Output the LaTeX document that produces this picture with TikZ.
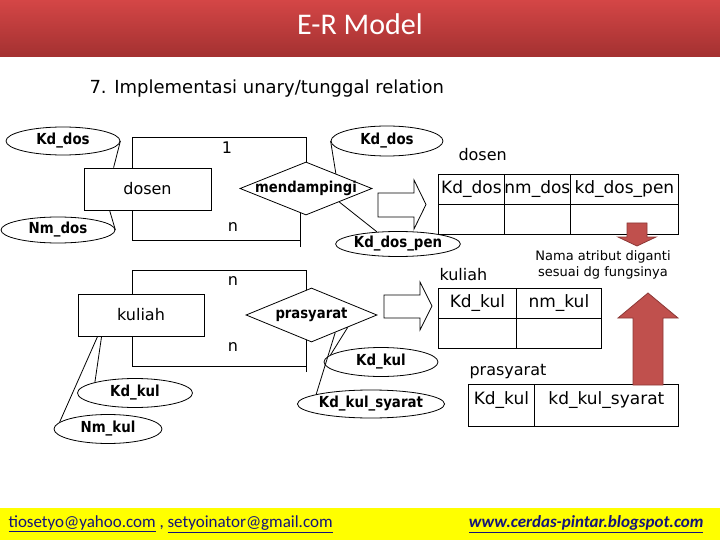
\documentclass[tikz,border=0pt]{standalone}
\usepackage{fontspec}
\setmainfont{DejaVu Sans}
\newfontfamily\calfont{Carlito}
\newfontfamily\attrfont[FakeStretch=0.88]{DejaVu Sans Bold}
\usetikzlibrary{shapes.geometric,calc}
\definecolor{hdrtop}{HTML}{D44646}
\definecolor{hdrbot}{HTML}{A33131}
\definecolor{arrred}{HTML}{C0504D}
\definecolor{arrdark}{HTML}{8C3836}
\definecolor{linkblue}{HTML}{14147A}
\definecolor{footyellow}{HTML}{FFFF00}
\tikzset{
  ln/.style={line width=0.8pt},
  attr/.style={ellipse, draw, ln, inner sep=0pt, font=\attrfont\fontsize{15.2}{17}\selectfont},
  ent/.style={rectangle, draw, ln, inner sep=0pt, font=\fontsize{16}{18}\selectfont},
  rel/.style={diamond, draw, ln, inner sep=0pt},
  rellab/.style={font=\attrfont\fontsize{15}{17}\selectfont},
  card/.style={font=\fontsize{16}{18}\selectfont},
  cell/.style={rectangle, draw, ln, inner sep=0pt, anchor=north west, font=\fontsize{17}{19}\selectfont},
  tlab/.style={font=\fontsize{16}{18}\selectfont, anchor=west},
  blockarr/.style={draw, ln, fill=white},
  redarr/.style={draw=arrdark, line width=0.8pt, fill=arrred},
  foot/.style={font=\calfont\fontsize{17}{19}\selectfont, text=linkblue}
}
\begin{document}
\begin{tikzpicture}[x=1pt,y=-1pt]
\useasboundingbox (0,0) rectangle (720,540);
% header
\shade[top color=hdrtop, bottom color=hdrbot] (0,0) rectangle (720,57);
\node[font=\calfont\fontsize{30}{36}\selectfont, text=white] (title) at (360,24) {E-R Model};
\node[font=\fontsize{18}{21}\selectfont, anchor=west] (sub) at (86,89) {7. Implementasi unary/tunggal relation};
% footer
\fill[footyellow] (0,508) rectangle (720,540);
\node[foot, anchor=west] (mail) at (5,524) {\underline{tiosetyo@yahoo.com} , \underline{setyoinator@gmail.com}};
\node[foot, anchor=east, font=\calfont\bfseries\itshape\fontsize{17}{19}\selectfont] (web) at (707,524) {\underline{www.cerdas-pintar.blogspot.com}};

% ---- upper ER: dosen / mendampingi
\node[attr, minimum width=114pt, minimum height=28pt] (kd1) at (63,141) {Kd\_dos};
\node[ent, minimum width=127pt, minimum height=42pt] (dos) at (147.5,189) {dosen};
\node[attr, minimum width=114pt, minimum height=26pt] (nm1) at (58,230) {Nm\_dos};
\node[rel, minimum width=132pt, minimum height=53pt] (m) at (306,188.5) {};
\node[rellab] (mlab) at (m) {mendampingi};
\node[attr, minimum width=112pt, minimum height=30pt] (kd2) at (387,141) {Kd\_dos};
\node[attr, minimum width=110pt, minimum height=25pt] (kdp) at (398,244) {Kd\_dos\_pen};

\draw[ln] (kd1.east) -- ([xshift=30pt]dos.north west);
\draw[ln] ([xshift=26pt]dos.south west) -- (nm1.east);
\draw[ln] ([xshift=49pt]dos.north west) |- ([yshift=24pt]m.north) -- (m.north);
\coordinate (mb) at ($(m.south)!0.08!(m.west)$);
\draw[ln] ([xshift=49pt]dos.south west) |- ([yshift=-27pt]mb);
\draw[ln] ([yshift=-34pt]mb) -- (mb);
\node[card] (c1) at (227,148) {1};
\node[card] (c2) at (233,227) {n};
\draw[ln] (kd2.west) -- ($(m.north)!0.45!(m.east)$);
\draw[ln] ($(m.east)!0.5!(m.south)$) -- (kdp.150);

% ---- lower ER: kuliah / prasyarat
\node[ent, minimum width=126pt, minimum height=42pt] (kul) at (141,315) {kuliah};
\node[rel, minimum width=131pt, minimum height=54pt] (p) at (311.5,315) {};
\node[rellab] (plab) at (p) {prasyarat};
\node[attr, minimum width=114pt, minimum height=29pt] (kk2) at (381,362) {Kd\_kul};
\node[attr, minimum width=143pt, minimum height=28pt] (kks) at (371,404) {Kd\_kul\_syarat};
\node[attr, minimum width=115pt, minimum height=29pt] (kk1) at (135,393) {Kd\_kul};
\node[attr, minimum width=108pt, minimum height=29pt] (nk) at (108,429) {Nm\_kul};

\coordinate (pt) at ($(p.north)!0.08!(p.west)$);
\coordinate (pb) at ($(p.south)!0.08!(p.west)$);
\draw[ln] ([xshift=55pt]kul.north west) |- ([yshift=19pt]pt) -- (pt);
\draw[ln] ([xshift=55pt]kul.south west) |- ([yshift=-26pt]pb);
\draw[ln] ([yshift=-32pt]pb) -- (pb);
\node[card] (c3) at (233,281) {n};
\node[card] (c4) at (233,347) {n};
\draw[ln] ($(p.east)!0.45!(p.south)$) -- (kk2.172);
\draw[ln] ($(p.east)!0.64!(p.south)$) -- (kks.170);
\draw[ln] ([xshift=24pt]kul.south west) -- (kk1.165);
\draw[ln] ([xshift=20pt]kul.south west) -- (nk.172);

% ---- block arrows
\draw[blockarr] (378,193) -- (414,193) -- (414,180) -- (426,204.5) -- (414,229) -- (414,217) -- (378,217) -- cycle;
\draw[blockarr] (384,295) -- (420,295) -- (420,282) -- (432,306) -- (420,330) -- (420,318) -- (384,318) -- cycle;

% ---- tables
\node[tlab] (tdos) at (455,155) {dosen};
\node[cell, minimum width=66pt, minimum height=30pt] (d11) at (438,174) {Kd\_dos};
\node[cell, minimum width=66pt, minimum height=30pt] (d12) at (504,174) {nm\_dos};
\node[cell, minimum width=108pt, minimum height=30pt] (d13) at (570,174) {kd\_dos\_pen};
\node[cell, minimum width=66pt, minimum height=30pt] (d21) at (438,204) {};
\node[cell, minimum width=66pt, minimum height=30pt] (d22) at (504,204) {};
\node[cell, minimum width=108pt, minimum height=30pt] (d23) at (570,204) {};

\node[tlab] (tkul) at (436,275) {kuliah};
\node[cell, minimum width=78pt, minimum height=30pt] (k11) at (438,288) {Kd\_kul};
\node[cell, minimum width=85pt, minimum height=30pt] (k12) at (516,288) {nm\_kul};
\node[cell, minimum width=78pt, minimum height=30pt] (k21) at (438,318) {};
\node[cell, minimum width=85pt, minimum height=30pt] (k22) at (516,318) {};

\node[tlab] (tpra) at (466,372) {prasyarat};
\node[cell, minimum width=66pt, minimum height=42pt, text depth=14pt] (p11) at (468,384) {Kd\_kul};
\node[cell, minimum width=144pt, minimum height=42pt, text depth=14pt] (p12) at (534,384) {kd\_kul\_syarat};

% ---- red arrows and note
\draw[redarr] (627,223) -- (647,223) -- (647,237) -- (656,237) -- (637,246) -- (618,237) -- (627,237) -- cycle;
\node[font=\fontsize{13}{16}\selectfont, align=center] (note) at (603,265) {Nama atribut diganti\\sesuai dg fungsinya};
\draw[redarr] (633,385) -- (633,318) -- (618,318) -- (648,293) -- (678,318) -- (663,318) -- (663,385) -- cycle;
\end{tikzpicture}
\end{document}
